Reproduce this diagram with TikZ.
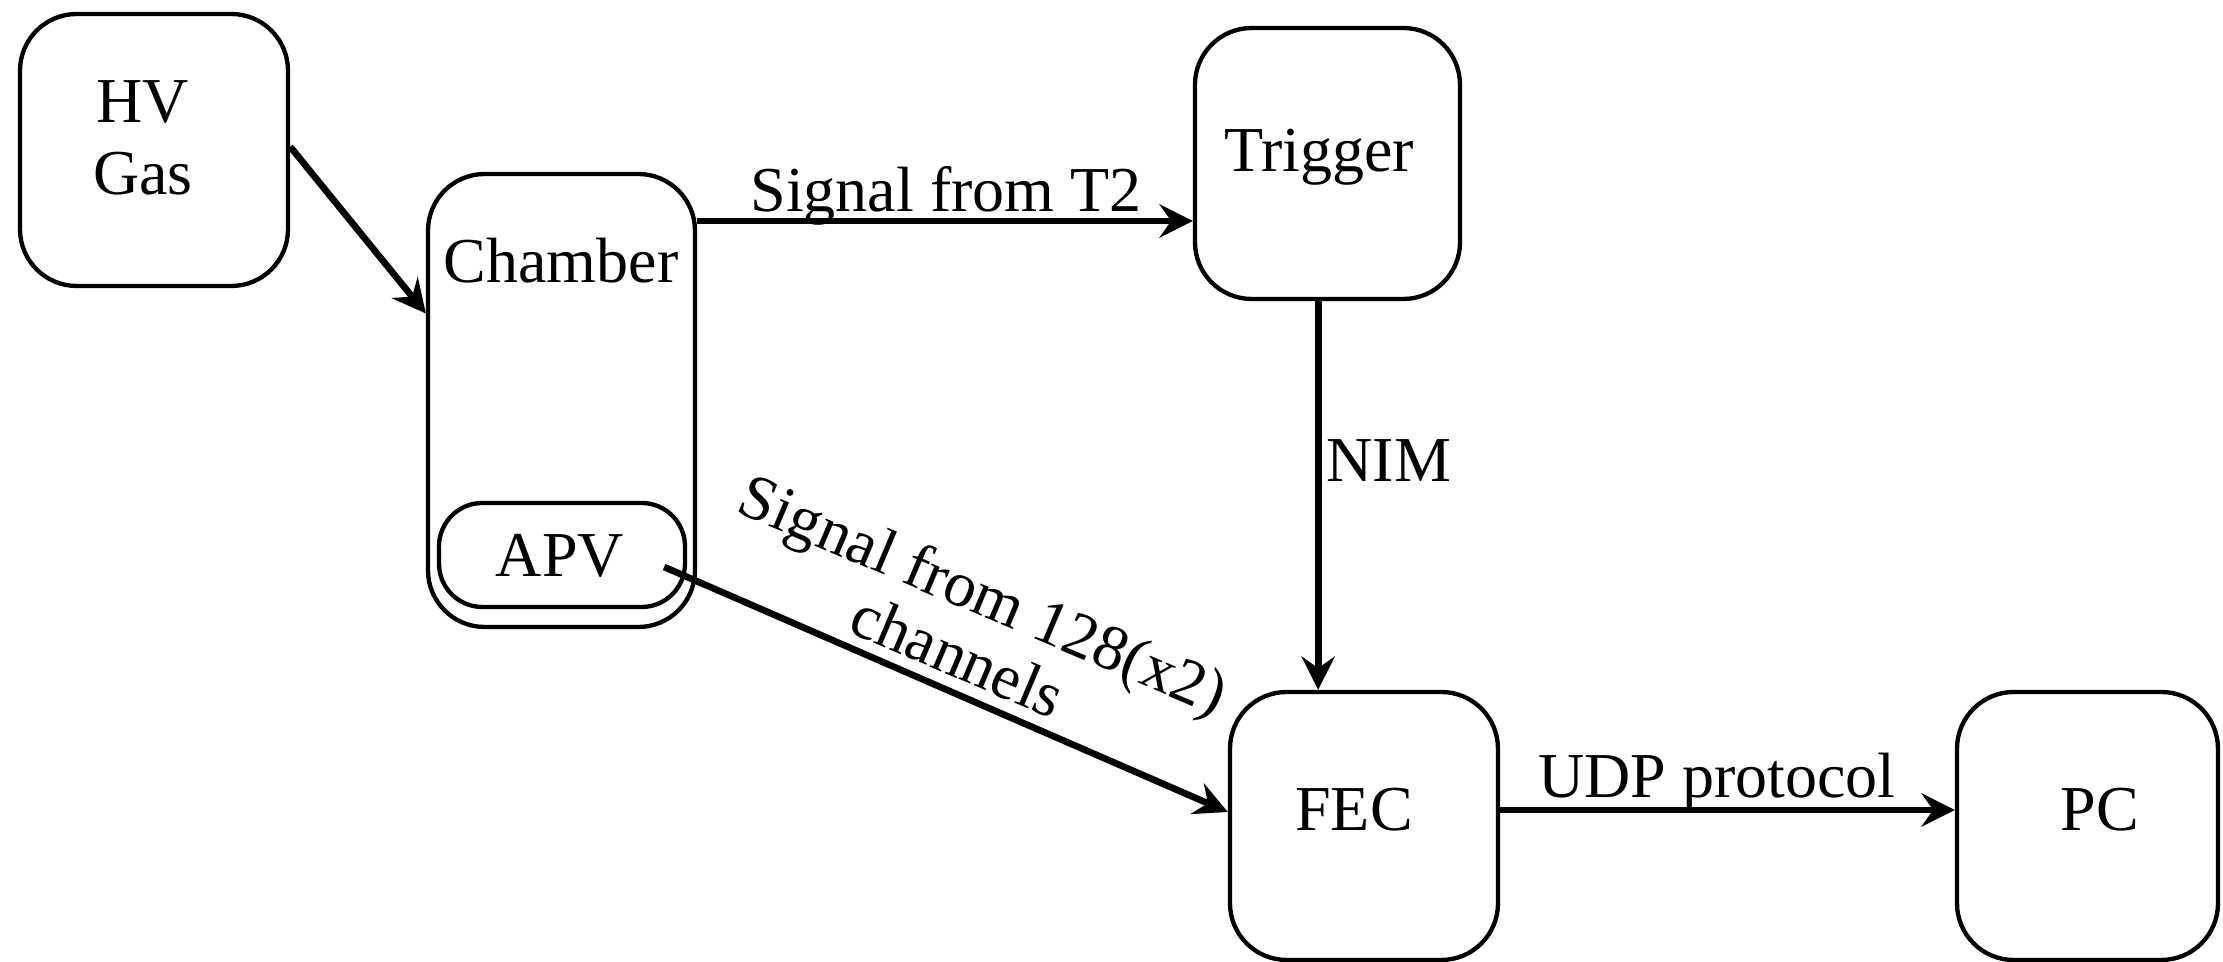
\documentclass[tikz,border=0pt]{standalone}
\usepackage{fontspec}
\setmainfont{Liberation Serif}
\usetikzlibrary{arrows.meta}

\begin{document}
\begin{tikzpicture}[x=0.3pt,y=-0.3pt,
  box/.style={draw,line width=1.3pt,rounded corners=17pt,inner sep=0pt},
  txt/.style={inner sep=0pt,anchor=base,font=\fontsize{19.2}{21.6}\selectfont},
  conn/.style={line width=2pt,-{Stealth[length=10pt,width=10pt,inset=3.5pt]}},
]
\useasboundingbox (0,0) rectangle (2223,962);

% blocks
\node[box,minimum width=80.4pt,minimum height=81.6pt] (HV) at (154,150) {};
\node[box,minimum width=80.1pt,minimum height=135.9pt] (Chamber) at (561.5,400.5) {};
\node[box,rounded corners=13pt,minimum width=73.8pt,minimum height=31.2pt] (APV) at (562,555) {};
\node[box,minimum width=79.5pt,minimum height=81.3pt] (Trigger) at (1327.5,163.5) {};
\node[box,minimum width=80.4pt,minimum height=80.4pt] (FEC) at (1364,826) {};
\node[box,minimum width=78.3pt,minimum height=80.4pt] (PC) at (2087.5,826) {};

% block texts (base anchor of a two-line node sits on its last line)
\node[txt,align=center] (HVtext) at (143,195) {HV\\Gas};
\node[txt] (Chambertext) at (561,283) {Chamber};
\node[txt] (APVtext) at (560,577) {APV};
\node[txt] (Triggertext) at (1319,172) {Trigger};
\node[txt] (FECtext) at (1354,831) {FEC};
\node[txt] (PCtext) at (2100,831) {PC};

% connection points
\coordinate (chIn) at ([yshift=26.1pt]Chamber.west);
\coordinate (trIn) at ([yshift=-17.25pt]Trigger.west);
\coordinate (nimTop) at ([xshift=-2.8pt,yshift=1pt]Trigger.south);
\coordinate (apvOut) at ([xshift=-6.9pt,yshift=-3.6pt]APV.east);
\coordinate (fecIn) at ([yshift=4.2pt]FEC.west);
\coordinate (udpOut) at ([yshift=4.8pt]FEC.east);

% connectors
\draw[conn] ([yshift=1pt]HV.east) -- (chIn);
\draw[conn] (Chamber.east |- trIn) -- (trIn);
\draw[conn] (nimTop) -- (nimTop |- FEC.north);
\draw[conn] (apvOut) -- (fecIn);
\draw[conn] (udpOut) -- (udpOut -| PC.west);

% connector labels
\node[txt] (lblT2) at (946,212) {Signal from T2};
\node[txt,anchor=base west] (lblNIM) at (1326,482) {NIM};
\node[txt] (lblUDP) at (1717,798) {UDP protocol};
\node[inner sep=0pt,rotate=-23,align=center,font=\fontsize{19.2}{20}\selectfont]
  (lblAPV) at (971,624) {Signal from 128(x2)\\channels};
\end{tikzpicture}
\end{document}
